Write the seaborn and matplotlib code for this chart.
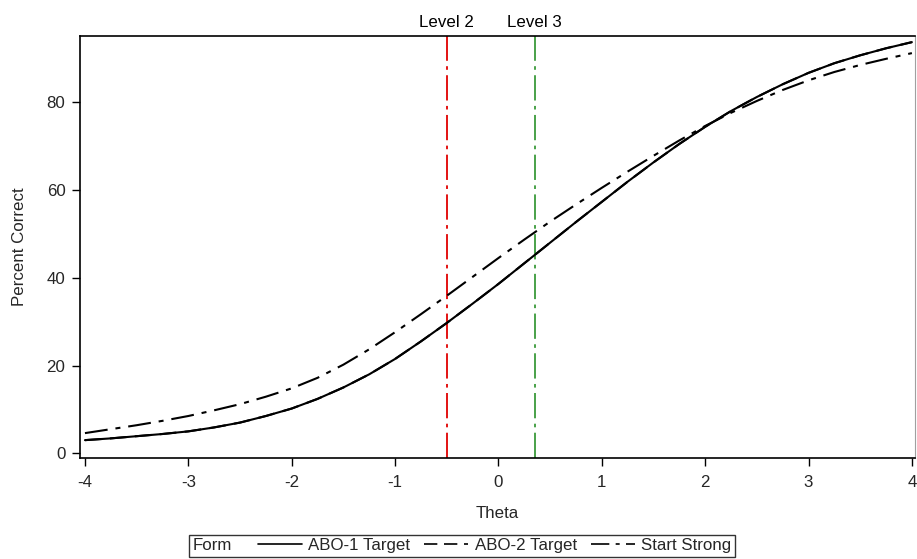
import numpy as np
import pandas as pd
import matplotlib
matplotlib.use("Agg")
import matplotlib.pyplot as plt
import seaborn as sns
from matplotlib.lines import Line2D
from matplotlib.offsetbox import HPacker

# Test characteristic curves (percent correct by theta)
theta = [-4.00, -3.75, -3.50, -3.25, -3.00, -2.75, -2.50, -2.25, -2.00,
         -1.75, -1.50, -1.25, -1.00, -0.75, -0.50, -0.25, 0.00,
         0.25, 0.50, 0.75, 1.00, 1.25, 1.50, 1.75, 2.00,
         2.25, 2.50, 2.75, 3.00, 3.25, 3.50, 3.75, 4.00]

abo1_target = [3.0, 3.4, 3.9, 4.4, 5.0, 5.9, 7.0, 8.5, 10.2,
               12.4, 15.0, 18.0, 21.5, 25.5, 29.7, 34.1, 38.6,
               43.3, 48.0, 52.7, 57.3, 61.9, 66.3, 70.5, 74.4,
               78.0, 81.2, 84.1, 86.7, 88.9, 90.7, 92.3, 93.7]

abo2_target = [3.0, 3.4, 3.9, 4.4, 5.0, 5.9, 7.0, 8.5, 10.2,
               12.4, 15.0, 18.0, 21.5, 25.5, 29.7, 34.1, 38.6,
               43.3, 48.0, 52.7, 57.3, 61.9, 66.3, 70.5, 74.4,
               78.0, 81.2, 84.1, 86.7, 88.9, 90.7, 92.3, 93.7]

start_strong = [4.6, 5.5, 6.4, 7.4, 8.5, 9.8, 11.2, 12.9, 14.8,
                17.2, 20.2, 23.7, 27.6, 31.7, 35.9, 40.2, 44.5,
                48.7, 52.8, 56.7, 60.5, 64.2, 67.8, 71.3, 74.6,
                77.6, 80.3, 82.8, 85.0, 86.9, 88.5, 89.9, 91.2]

form_names = ["ABO-1 Target", "ABO-2 Target", "Start Strong"]

# Performance level cut points on theta
level_names = ["Level 2", "Level 3"]
level_cuts = [-0.5, 0.35]
level_colors = ["#E00000", "#3A9A3A"]

x_ticks = [-4, -3, -2, -1, 0, 1, 2, 3, 4]
y_ticks = [0, 20, 40, 60, 80]

sns.set_style("white")
plt.rcParams["font.family"] = ["Liberation Sans", "DejaVu Sans"]
FS = 12.2

fig = plt.figure(figsize=(9.17, 5.59), dpi=100)
ax = fig.add_axes([80 / 917, 1 - 458 / 559, 835 / 917, 422 / 559])

df = pd.DataFrame({
    "Theta": theta * 3,
    "Percent Correct": abo1_target + abo2_target + start_strong,
    "Form": sum([[n] * len(theta) for n in form_names], []),
})

styles = {
    "ABO-1 Target": "-",
    "ABO-2 Target": (0, (8, 4)),
    "Start Strong": (0, (11, 3.8, 2.4, 3.8)),
}
draw_order = ["ABO-2 Target", "Start Strong", "ABO-1 Target"]
for name in draw_order:
    sub = df[df["Form"] == name]
    sns.lineplot(data=sub, x="Theta", y="Percent Correct", ax=ax,
                 color="black", lw=1.5, linestyle=styles[name],
                 legend=False, zorder=3)

for name, cut, col in zip(level_names, level_cuts, level_colors):
    ax.axvline(cut, color=col, lw=1.3, linestyle=(0, (14, 3, 2, 3)), zorder=2)
    ax.annotate(name, xy=(cut, 1), xycoords=ax.get_xaxis_transform(),
                xytext=(0, 4.5), textcoords="offset points",
                ha="center", va="bottom", fontsize=FS, color="black")

ax.set_xlim(-4.048, 4.03)
ax.set_ylim(-1.07, 95.1)
ax.set_xticks(x_ticks)
ax.set_xticklabels([str(t) for t in x_ticks])
ax.set_yticks(y_ticks)
ax.set_xlabel("Theta", fontsize=FS, labelpad=11)
ax.set_ylabel("Percent Correct", fontsize=FS, labelpad=14)
ax.tick_params(axis="both", direction="out", length=5.5, width=1.0,
               color="black", labelsize=FS, bottom=True, left=True)
ax.tick_params(axis="x", pad=7)
ax.tick_params(axis="y", pad=5)

for side in ["left", "bottom", "top"]:
    ax.spines[side].set_color("black")
    ax.spines[side].set_linewidth(1.2)
ax.spines["right"].set_color("#A0A0A0")
ax.spines["right"].set_linewidth(0.8)

handles = [Line2D([], [], color="black", lw=1.2, linestyle=styles[n]) for n in form_names]
leg = fig.legend(handles, form_names, title="Form", ncol=3,
                 loc="upper center", bbox_to_anchor=(0.504, 1 - 535 / 559),
                 fontsize=FS, title_fontsize=FS, frameon=True, fancybox=False,
                 edgecolor="black", handlelength=2.6, handletextpad=0.4,
                 columnspacing=0.8, borderpad=0.2, borderaxespad=0)
leg.get_frame().set_linewidth(1.0)

# put the title to the left of the entries on one row
row = HPacker(pad=leg.borderpad * FS, sep=1.5 * FS, align="center",
              children=[leg._legend_title_box, leg._legend_handle_box])
row.set_figure(fig)
leg._legend_box = row
leg._set_loc(leg._loc)

fig.savefig("out.png", dpi=100)
